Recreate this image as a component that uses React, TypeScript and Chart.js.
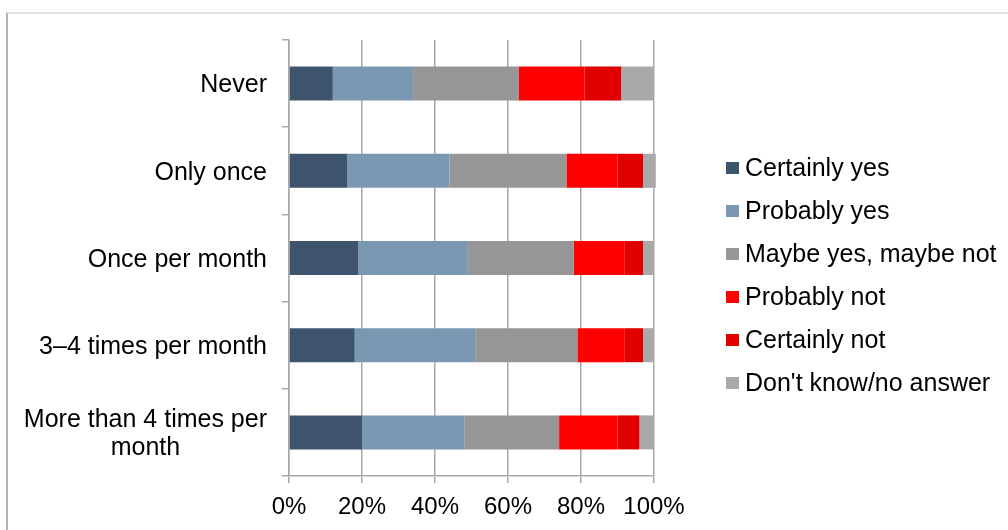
import React, { useEffect, useRef } from "react";
import { Chart, registerables } from "chart.js";

Chart.register(...registerables);

// Visit frequency groups (y axis), one label line per array entry
const categories: string[][] = [
  ["Never"],
  ["Only once"],
  ["Once per month"],
  ["3–4 times per month"],
  ["More than 4 times per", "month"],
];

// Share of answers per group, in percent
const certainlyYes = [12, 16, 19, 18, 20];
const probablyYes = [22, 28, 30, 33, 28];
const maybe = [29, 32, 29, 28, 26];
const probablyNot = [18, 14, 14, 13, 16];
const certainlyNot = [10, 7, 5, 5, 6];
const dontKnow = [9, 3.5, 3, 3, 4];

const seriesNames = [
  "Certainly yes",
  "Probably yes",
  "Maybe yes, maybe not",
  "Probably not",
  "Certainly not",
  "Don't know/no answer",
];
const seriesColors = ["#3e546d", "#7b98b3", "#969696", "#ff0000", "#e00000", "#a9a9a9"];

const xTicks = [0, 20, 40, 60, 80, 100];

const FONT = '"Liberation Sans", Arial, sans-serif';

// Draws the category labels (right-aligned block, lines centred within it)
// and the legend on the right.
const labelsAndLegend = {
  id: "labelsAndLegend",
  afterDraw(chart: Chart) {
    const ctx = chart.ctx;
    const yScale = chart.scales.y;
    ctx.save();
    ctx.fillStyle = "#000000";
    ctx.font = `25px ${FONT}`;
    ctx.textBaseline = "middle";
    ctx.textAlign = "center";
    const rightEdge = yScale.right - 22;
    const lineHeight = 28;
    categories.forEach((lines, i) => {
      const cy = yScale.getPixelForValue(i) + 2;
      const maxW = Math.max(...lines.map((l) => ctx.measureText(l).width));
      const cx = rightEdge - maxW / 2;
      const y0 = cy - ((lines.length - 1) * lineHeight) / 2;
      lines.forEach((l, j) => ctx.fillText(l, cx, y0 + j * lineHeight));
    });

    // legend
    const boxX = 726;
    const textX = 745;
    const startY = 168;
    const step = 43;
    ctx.textAlign = "left";
    chart.data.datasets.forEach((ds, i) => {
      const cy = startY + i * step;
      ctx.fillStyle = ds.backgroundColor as string;
      ctx.fillRect(boxX, cy - 6, 13, 12);
      ctx.fillStyle = "#000000";
      ctx.fillText(ds.label as string, textX, cy + 1);
    });
    ctx.restore();
  },
};

export default function App() {
  const canvasRef = useRef<HTMLCanvasElement | null>(null);

  useEffect(() => {
    if (!canvasRef.current) return;
    const values = [certainlyYes, probablyYes, maybe, probablyNot, certainlyNot, dontKnow];
    const chart = new Chart(canvasRef.current, {
      type: "bar",
      data: {
        labels: categories.map((c) => c.join(" ")),
        datasets: values.map((data, i) => ({
          label: seriesNames[i],
          data,
          backgroundColor: seriesColors[i],
          borderWidth: 0,
          categoryPercentage: 1,
          barPercentage: 0.39,
          clip: false as any,
        })),
      },
      options: {
        indexAxis: "y",
        responsive: false,
        animation: false,
        layout: { padding: { top: 40, left: 0, right: 354, bottom: 0 } },
        plugins: {
          legend: { display: false },
          tooltip: { enabled: false },
        },
        scales: {
          x: {
            stacked: true,
            min: 0,
            max: 100,
            afterBuildTicks: (scale: any) => {
              scale.ticks = xTicks.map((v) => ({ value: v }));
            },
            afterFit: (scale: any) => {
              scale.height = 54;
            },
            ticks: {
              callback: (v: any) => `${v}%`,
              color: "#000000",
              font: { family: FONT, size: 24 },
              padding: 10,
              maxRotation: 0,
            },
            grid: {
              color: "#a8a8a8",
              lineWidth: 1.5,
              tickLength: 7,
            },
            border: { color: "#a8a8a8", width: 1.5 },
          },
          y: {
            stacked: true,
            offset: true,
            afterFit: (scale: any) => {
              scale.width = 289;
            },
            ticks: { display: false },
            grid: {
              offset: true,
              drawOnChartArea: false,
              color: "#a8a8a8",
              lineWidth: 1.5,
              tickLength: 7,
            },
            border: { color: "#a8a8a8", width: 1.5 },
          },
        },
      },
      plugins: [labelsAndLegend],
    });
    return () => chart.destroy();
  }, []);

  return (
    <div
      style={{
        position: "fixed",
        left: 0,
        top: 0,
        width: 1008,
        height: 530,
        overflow: "hidden",
        background: "#ffffff",
      }}
    >
      <div
        style={{
          position: "absolute",
          left: 6,
          top: 12,
          width: 1100,
          height: 600,
          borderTop: "2px solid #e2e2e2",
          borderLeft: "2px solid #b4b4b4",
        }}
      />
      <canvas
        ref={canvasRef}
        width={1008}
        height={530}
        style={{ position: "absolute", left: 0, top: 0 }}
      />
    </div>
  );
}
